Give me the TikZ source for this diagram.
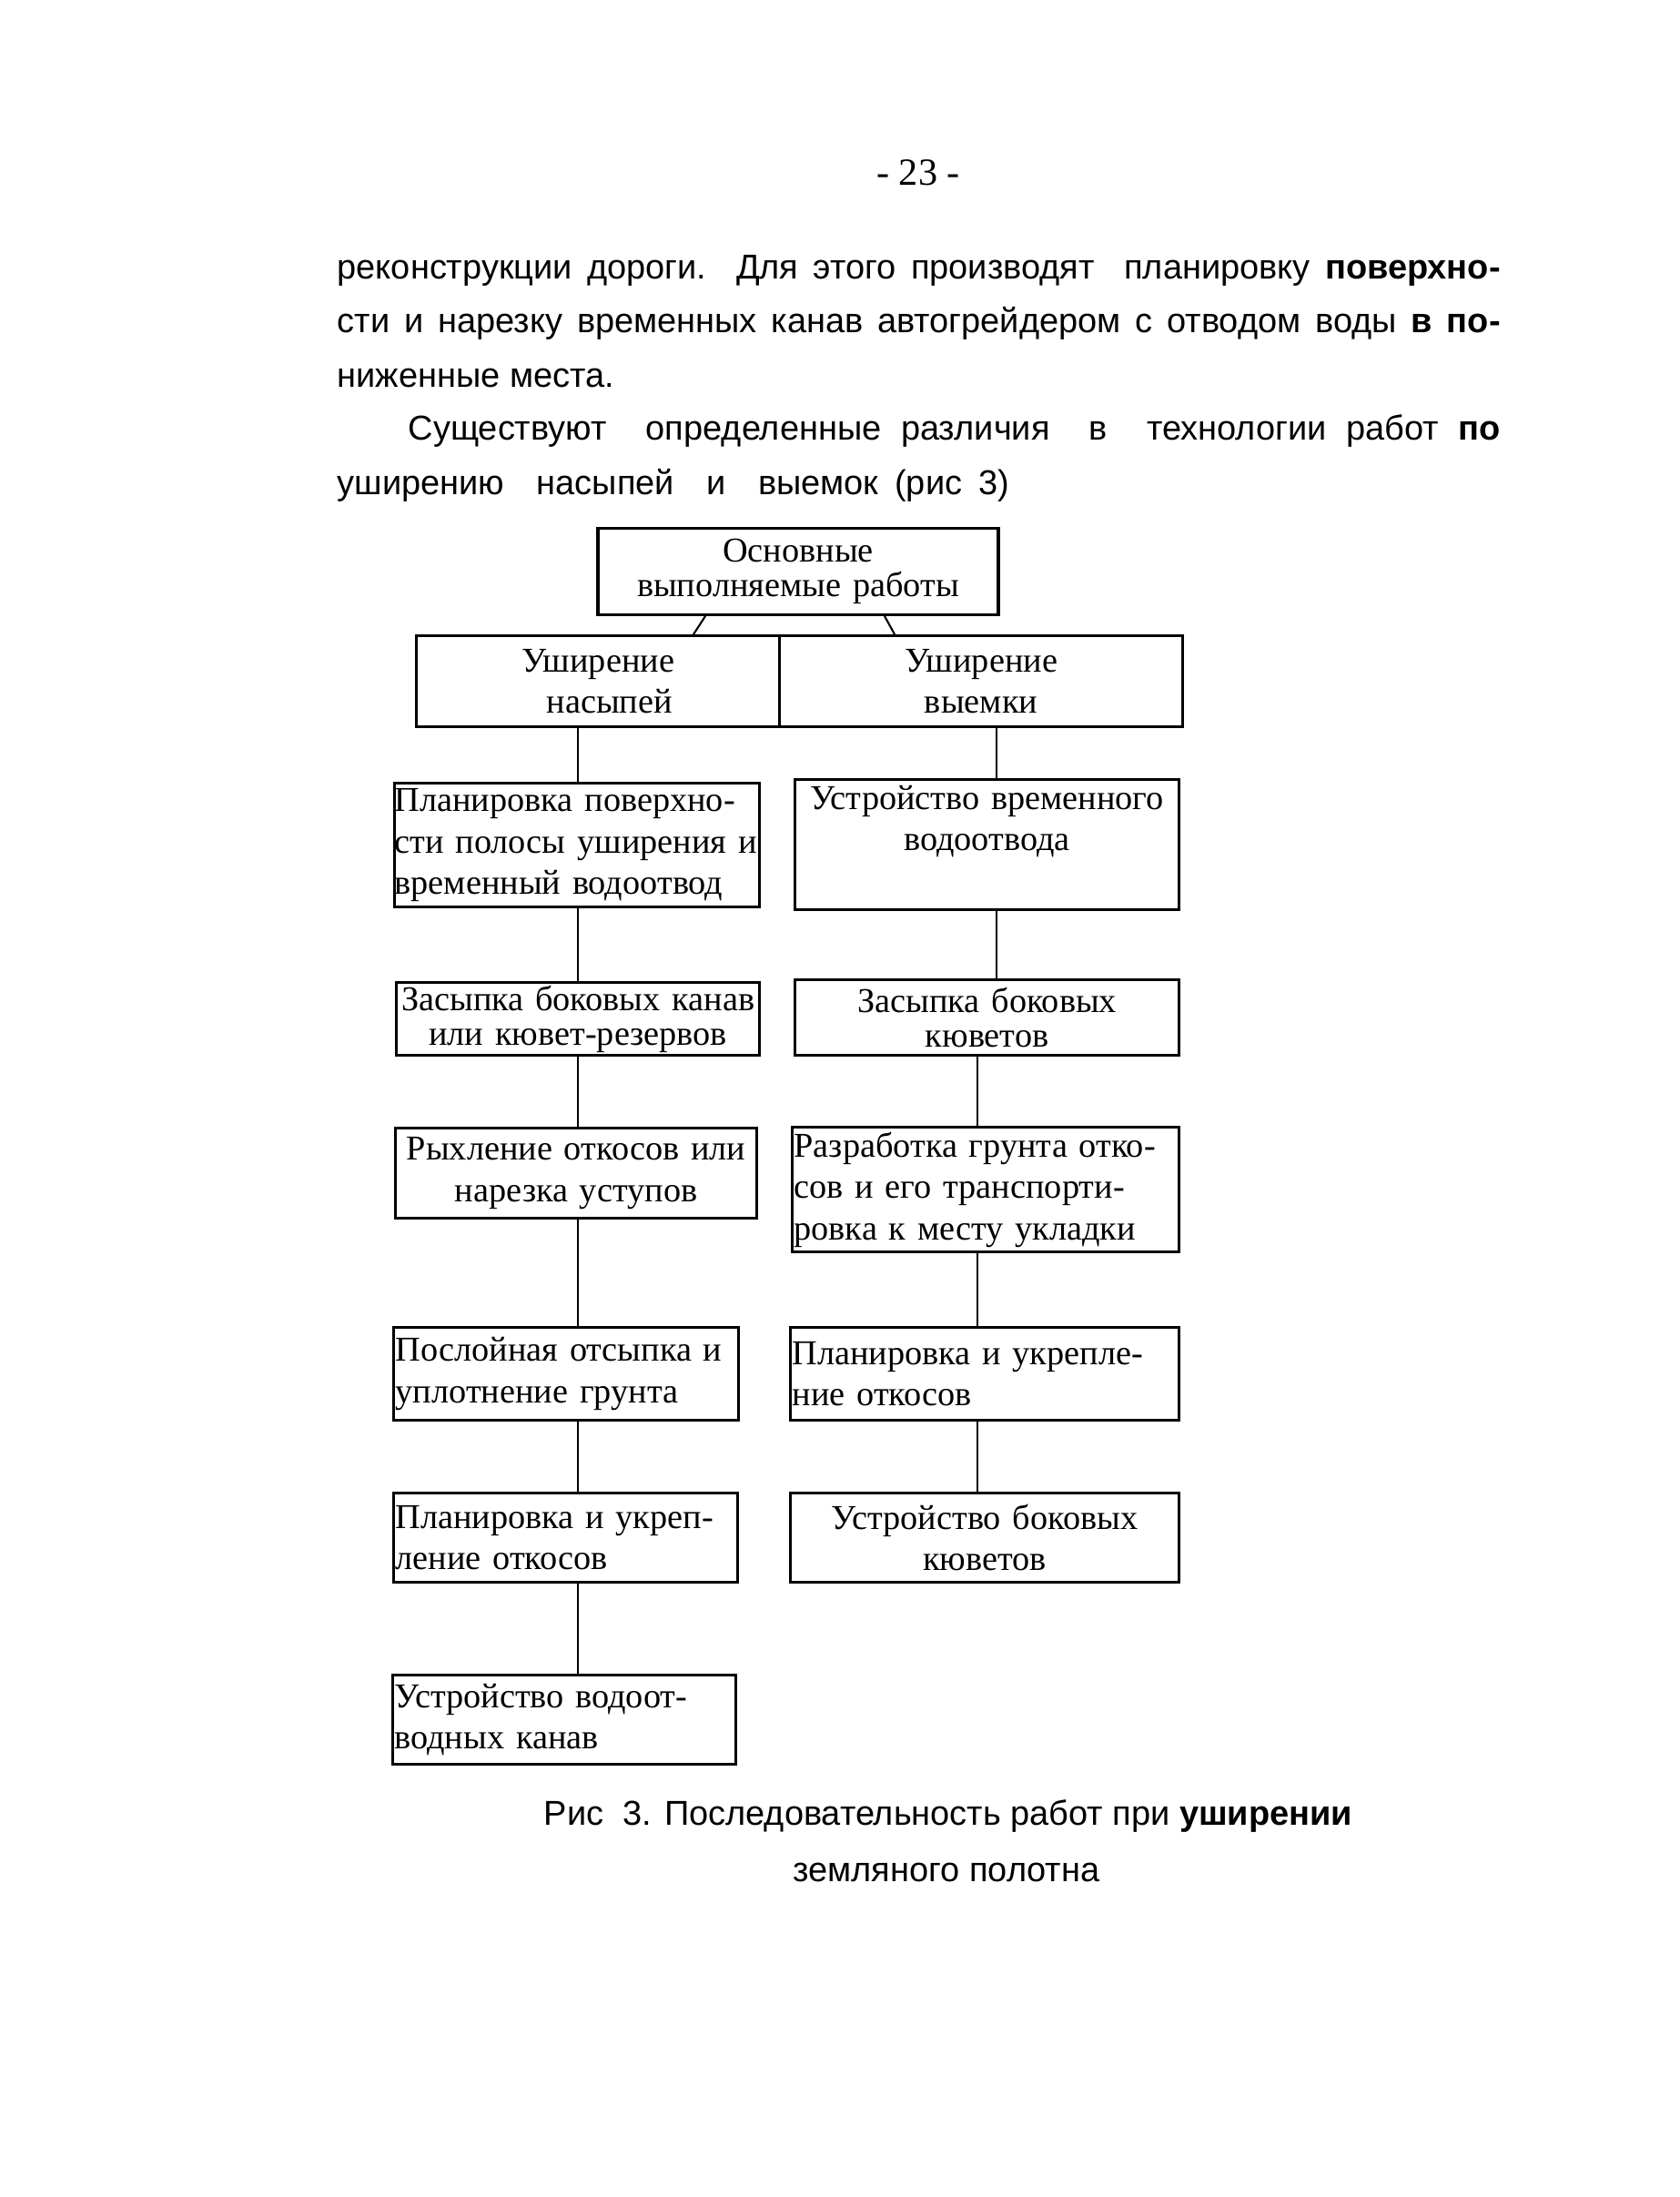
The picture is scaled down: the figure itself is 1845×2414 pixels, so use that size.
\documentclass[tikz,border=0pt]{standalone}
\usepackage{fontspec}
\setmainfont{Liberation Serif}
\newfontfamily\arialfont{Liberation Sans}
\usepackage{tikz}

\begin{document}
\begin{tikzpicture}[x=0.1mm, y=-0.1mm,
    work/.style={draw, line width=0.9pt, inner xsep=0.2mm, inner ysep=0.3mm, font=\fontsize{10.9}{12.9}\selectfont},
    tight/.style={font=\fontsize{10.9}{11}\selectfont},
    link/.style={line width=0.6pt},
    page/.style={anchor=base west, inner sep=0pt, font=\arialfont\fontsize{10.8}{13}\selectfont}]
  \useasboundingbox (0,0) rectangle (1845,2414);

  % page text
  \node[anchor=base, inner sep=0pt, font=\fontsize{12}{14}\selectfont] (pagenum) at (1009,203) {- 23 -};
  \node[page] (par1) at (370,306) {\makebox[127.8mm][s]{реконструкции дороги.\ \ Для этого производят\ \ планировку \textbf{поверхно-}}};
  \node[page] (par2) at (370,366) {\makebox[127.8mm][s]{сти и нарезку временных канав автогрейдером с отводом воды \textbf{в по-}}};
  \node[page] (par3) at (370,425) {ниженные места.};
  \node[page] (par4) at (448,483) {\makebox[120mm][s]{Существуют\ \ определенные различия\ \ в\ \ технологии работ \textbf{по}}};
  \node[page] (par5) at (370,543) {\makebox[73.8mm][s]{уширению\ \ насыпей\ \ и\ \ выемок (рис 3)}};

  % top and the two branches
  \node[work, tight, anchor=south, text width=43.6mm, minimum height=9.5mm, align=center] (top) at (877,677) {Основные\\выполняемые работы};
  \node[work, anchor=north west, text width=39.5mm, minimum height=10mm, align=center] (wideL) at (456,697) {Уширение\\\ \ насыпей};
  \node[work, anchor=north west, text width=43.9mm, minimum height=10mm, align=center] (wideR) at (855,697) {Уширение\\выемки};

  % left column
  \node[work, inner xsep=0pt, anchor=north west, text width=40.1mm, minimum height=13.6mm, align=left] (L1) at (432,859) {Планировка поверхно-\\сти полосы уширения~и\\временный водоотвод};
  \node[work, tight, anchor=north west, text width=39.5mm, minimum height=8mm, align=center] (L2) at (434,1078) {Засыпка боковых канав\\или кювет-резервов};
  \node[work, anchor=north west, text width=39.3mm, minimum height=9.9mm, align=center] (L3) at (433,1238) {Рыхление откосов или\\нарезка уступов};
  \node[work, anchor=north west, text width=37.5mm, minimum height=10.2mm, align=left] (L4) at (431,1457) {Послойная отсыпка и\\уплотнение грунта};
  \node[work, anchor=north west, text width=37.4mm, minimum height=9.8mm, align=left] (L5) at (431,1639) {Планировка и укреп-\\ление откосов};
  \node[work, anchor=north west, text width=37.3mm, minimum height=9.8mm, align=left] (L6) at (430,1839) {Устройство водоот-\\водных канав};

  % right column
  \node[work, anchor=north west, text width=41.8mm, minimum height=14.3mm, align=center] (R1) at (872,855) {Устройство временного\\водоотвода\\\strut};
  \node[work, tight, anchor=north west, text width=41.8mm, minimum height=8.3mm, align=center] (R2) at (872,1075) {Засыпка боковых\\кюветов};
  \node[work, anchor=north west, text width=42.1mm, minimum height=13.7mm, align=left] (R3) at (869,1237) {Разработка грунта отко-\\сов и его транспорти-\\ровка к месту укладки};
  \node[work, anchor=north west, text width=42.3mm, minimum height=10.2mm, align=left] (R4) at (867,1457) {Планировка и укрепле-\\ние откосов};
  \node[work, anchor=north west, text width=42.3mm, minimum height=9.8mm, align=center] (R5) at (867,1639) {Устройство боковых\\кюветов};

  % connectors
  \coordinate (lcol) at (635,0);
  \coordinate (rcola) at (1095,0);
  \coordinate (rcolb) at (1074,0);
  \draw[link] ([xshift=-10.2mm]top.south) -- ++(-1.3mm,-2mm);
  \draw[link] ([xshift=9.5mm]top.south) -- ++(1.1mm,-2mm);
  \draw[link] (lcol |- wideL.south) -- (lcol |- L1.north);
  \foreach \a/\b in {L1/L2, L2/L3, L3/L4, L4/L5, L5/L6}
    \draw[link] (lcol |- \a.south) -- (lcol |- \b.north);
  \draw[link] (rcola |- wideR.south) -- (rcola |- R1.north);
  \draw[link] (rcola |- R1.south) -- (rcola |- R2.north);
  \foreach \a/\b in {R2/R3, R3/R4, R4/R5}
    \draw[link] (rcolb |- \a.south) -- (rcolb |- \b.north);

  % caption
  \node[page, anchor=base] (cap1) at (1042,2005) {Рис\ \ 3. Последовательность работ при \textbf{уширении}};
  \node[page, anchor=base] (cap2) at (1040,2067) {земляного полотна};
\end{tikzpicture}
\end{document}
